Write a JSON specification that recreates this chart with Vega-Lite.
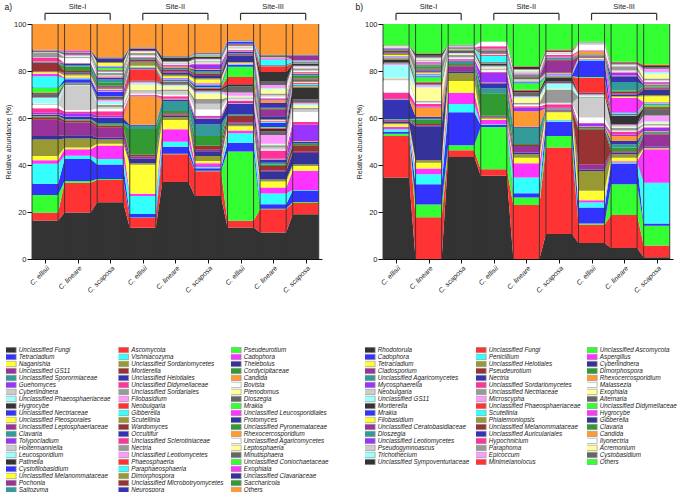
{
"$schema":"https://vega.github.io/schema/vega-lite/v6.json",
"padding":{"left":4,"top":2,"right":2,"bottom":0},
"config":{"font":"Liberation Sans","view":{"stroke":null},"legend":{"symbolSize":25,"symbolLimit":100},"axis":{"labelFont":"Liberation Sans","titleFont":"Liberation Sans","labelColor":"#222","titleColor":"#222","domainColor":"#111","tickColor":"#111"},"title":{"font":"Liberation Sans","fontWeight":"normal","fontSize":8.5,"anchor":"start","color":"#111"}},
"resolve":{"scale":{"color":"independent"},"legend":{"color":"independent"}},
"bounds":"flush",
"spacing":61,
"datasets":{
"samples":[{"k":"v1","L":"1L","R":"1R"},{"k":"v2","L":"2L","R":"2R"},{"k":"v3","L":"3L","R":"3R"},{"k":"v4","L":"4L","R":"4R"},{"k":"v5","L":"5L","R":"5R"},{"k":"v6","L":"6L","R":"6R"},{"k":"v7","L":"7L","R":"7R"},{"k":"v8","L":"8L","R":"8R"},{"k":"v9","L":"9L","R":"9R"}],
"sites":[{"site":"Site-I","from":"1b","to":"3b","mid":"2b"},{"site":"Site-II","from":"4b","to":"6b","mid":"5b"},{"site":"Site-III","from":"7b","to":"9b","mid":"8b"}],
"a":[
{"t":"Unclassified Fungi","o":1,"v1":16.4,"v2":19.7,"v3":24.2,"v4":13.3,"v5":32.8,"v6":26.8,"v7":13.4,"v8":11.3,"v9":19.0},
{"t":"Ascomycota","o":2,"v1":3.3,"v2":12.7,"v3":9.4,"v4":4.2,"v5":11.8,"v6":10.5,"v7":2.9,"v8":9.9,"v9":4.8},
{"t":"Pseudeurotium","o":3,"v1":7.5,"v2":0.7,"v3":0.4,"v4":0.2,"v5":0.2,"v6":0.3,"v7":29.4,"v8":0.2,"v9":0.5},
{"t":"Tetracladium","o":4,"v1":4.8,"v2":9.3,"v3":6.2,"v4":1.5,"v5":3.0,"v6":1.0,"v7":3.8,"v8":1.9,"v9":4.8},
{"t":"Vishniacozyma","o":5,"v1":8.5,"v2":1.4,"v3":2.4,"v4":7.6,"v5":2.1,"v6":0.5,"v7":4.0,"v8":4.6,"v9":0.3},
{"t":"Cadophora","o":6,"v1":1.5,"v2":2.8,"v3":5.7,"v4":1.0,"v5":5.3,"v6":1.6,"v7":1.2,"v8":2.5,"v9":8.2},
{"t":"Naganishia","o":7,"v1":1.8,"v2":0.7,"v3":0.7,"v4":12.3,"v5":3.9,"v6":1.0,"v7":1.8,"v8":2.6,"v9":2.0},
{"t":"Unclassified Sordariomycetes","o":8,"v1":7.1,"v2":3.8,"v3":1.9,"v4":0.6,"v5":1.3,"v6":2.1,"v7":0.6,"v8":0.8,"v9":0.6},
{"t":"Thelebolus","o":9,"v1":1.4,"v2":1.4,"v3":0.7,"v4":2.1,"v5":0.6,"v6":2.0,"v7":0.6,"v8":3.5,"v9":4.9},
{"t":"Unclassified GS11","o":10,"v1":7.0,"v2":5.4,"v3":4.2,"v4":0.8,"v5":0.5,"v6":0.7,"v7":0.5,"v8":0.5,"v9":0.5},
{"t":"Mortierella","o":11,"v1":1.0,"v2":0.9,"v3":1.0,"v4":0.8,"v5":0.5,"v6":1.7,"v7":2.6,"v8":1.8,"v9":2.8},
{"t":"Cordycipitaceae","o":12,"v1":0.3,"v2":0.3,"v3":0.5,"v4":10.9,"v5":1.0,"v6":4.1,"v7":0.4,"v8":0.6,"v9":0.5},
{"t":"Unclassified Sporormiaceae","o":13,"v1":0.3,"v2":0.3,"v3":0.6,"v4":1.4,"v5":4.2,"v6":4.9,"v7":0.3,"v8":0.8,"v9":0.5},
{"t":"Unclassified Helotiales","o":14,"v1":0.6,"v2":0.9,"v3":2.1,"v4":0.4,"v5":0.5,"v6":2.6,"v7":4.6,"v8":1.2,"v9":0.5},
{"t":"Candida","o":15,"v1":0.2,"v2":0.2,"v3":0.2,"v4":12.2,"v5":0.3,"v6":0.3,"v7":0.3,"v8":0.3,"v9":0.3},
{"t":"Guehomyces","o":16,"v1":0.5,"v2":1.3,"v3":0.8,"v4":0.3,"v5":0.3,"v6":0.3,"v7":0.4,"v8":0.3,"v9":6.9},
{"t":"Unclassified Didymellaceae","o":17,"v1":2.0,"v2":0.8,"v3":1.9,"v4":0.3,"v5":1.0,"v6":0.6,"v7":0.6,"v8":3.4,"v9":1.2},
{"t":"Bovista","o":18,"v1":1.4,"v2":0.6,"v3":1.0,"v4":0.4,"v5":0.6,"v6":2.6,"v7":0.5,"v8":0.4,"v9":4.3},
{"t":"Cyberlindnera","o":19,"v1":0.2,"v2":10.3,"v3":0.8,"v4":1.0,"v5":1.6,"v6":2.5,"v7":0.5,"v8":0.8,"v9":1.0},
{"t":"Unclassified Sordariales","o":20,"v1":0.2,"v2":0.1,"v3":0.8,"v4":0.5,"v5":0.6,"v6":2.0,"v7":0.3,"v8":1.0,"v9":0.7},
{"t":"Plenodomus","o":21,"v1":0.2,"v2":0.1,"v3":0.3,"v4":2.4,"v5":1.3,"v6":2.2,"v7":0.4,"v8":0.3,"v9":1.0},
{"t":"Unclassified Phaeosphaeriaceae","o":22,"v1":2.3,"v2":0.1,"v3":1.2,"v4":0.6,"v5":0.5,"v6":0.5,"v7":0.4,"v8":0.3,"v9":0.5},
{"t":"Filobasidium","o":23,"v1":0.2,"v2":0.1,"v3":0.8,"v4":0.6,"v5":0.3,"v6":0.5,"v7":1.3,"v8":3.8,"v9":0.7},
{"t":"Dioszegia","o":24,"v1":1.3,"v2":0.1,"v3":0.8,"v4":0.3,"v5":0.6,"v6":0.5,"v7":2.6,"v8":1.6,"v9":1.5},
{"t":"Hygrocybe","o":25,"v1":0.5,"v2":0.5,"v3":0.3,"v4":0.2,"v5":0.4,"v6":0.6,"v7":1.0,"v8":1.0,"v9":5.0},
{"t":"Neobulgaria","o":26,"v1":0.3,"v2":0.1,"v3":0.2,"v4":4.8,"v5":0.3,"v6":0.4,"v7":3.0,"v8":0.4,"v9":0.4},
{"t":"Mrakia","o":27,"v1":2.0,"v2":0.2,"v3":0.2,"v4":0.3,"v5":0.3,"v6":0.3,"v7":4.4,"v8":0.4,"v9":0.4},
{"t":"Unclassified Nectriaceae","o":28,"v1":0.2,"v2":1.5,"v3":1.8,"v4":0.3,"v5":0.6,"v6":0.8,"v7":0.8,"v8":1.8,"v9":0.4},
{"t":"Gibberella","o":29,"v1":4.8,"v2":0.4,"v3":0.3,"v4":0.3,"v5":0.3,"v6":0.4,"v7":0.3,"v8":0.4,"v9":0.3},
{"t":"Unclassified Leucosporidiales","o":30,"v1":1.0,"v2":0.3,"v3":0.7,"v4":0.2,"v5":0.3,"v6":0.5,"v7":0.3,"v8":0.4,"v9":0.4},
{"t":"Unclassified Pleosporales","o":31,"v1":0.7,"v2":0.8,"v3":0.3,"v4":0.4,"v5":0.8,"v6":1.6,"v7":0.3,"v8":0.4,"v9":0.4},
{"t":"Scutellinia","o":32,"v1":0.1,"v2":0.8,"v3":0.2,"v4":1.5,"v5":0.6,"v6":0.5,"v7":0.3,"v8":0.3,"v9":0.4},
{"t":"Protomyces","o":33,"v1":0.1,"v2":0.3,"v3":0.4,"v4":0.3,"v5":1.0,"v6":1.0,"v7":2.8,"v8":1.2,"v9":0.4},
{"t":"Unclassified Leptosphaeriaceae","o":34,"v1":0.1,"v2":0.3,"v3":0.3,"v4":0.3,"v5":0.5,"v6":0.4,"v7":0.3,"v8":2.8,"v9":0.3},
{"t":"Wardomyces","o":35,"v1":3.6,"v2":0.6,"v3":0.4,"v4":0.5,"v5":0.5,"v6":0.6,"v7":0.3,"v8":0.3,"v9":0.4},
{"t":"Unclassified Pyronemataceae","o":36,"v1":0.15,"v2":1.9,"v3":1.3,"v4":0.3,"v5":0.3,"v6":0.6,"v7":0.2,"v8":0.3,"v9":1.2},
{"t":"Clavaria","o":37,"v1":0.15,"v2":0.5,"v3":1.4,"v4":0.2,"v5":0.3,"v6":0.4,"v7":0.2,"v8":0.3,"v9":0.4},
{"t":"Occultifur","o":38,"v1":0.15,"v2":0.6,"v3":0.8,"v4":0.2,"v5":0.3,"v6":0.6,"v7":0.6,"v8":2.0,"v9":0.4},
{"t":"Rhexocercosporidium","o":39,"v1":0.15,"v2":0.1,"v3":0.2,"v4":0.2,"v5":0.6,"v6":0.3,"v7":0.2,"v8":1.2,"v9":0.3},
{"t":"Tolypocladium","o":40,"v1":0.15,"v2":0.1,"v3":0.2,"v4":0.2,"v5":0.6,"v6":2.0,"v7":0.3,"v8":0.4,"v9":0.3},
{"t":"Unclassified Sclerotiniaceae","o":41,"v1":1.4,"v2":0.2,"v3":0.2,"v4":0.2,"v5":0.2,"v6":0.4,"v7":0.3,"v8":0.4,"v9":0.3},
{"t":"Unclassified Agaricomycetes","o":42,"v1":0.1,"v2":2.0,"v3":0.2,"v4":0.4,"v5":0.2,"v6":0.3,"v7":0.6,"v8":0.8,"v9":0.3},
{"t":"Holtermanniella","o":43,"v1":0.1,"v2":0.2,"v3":0.2,"v4":0.3,"v5":0.2,"v6":0.3,"v7":0.3,"v8":0.6,"v9":0.3},
{"t":"Nectria","o":44,"v1":1.9,"v2":0.3,"v3":1.0,"v4":1.0,"v5":0.2,"v6":0.4,"v7":0.2,"v8":0.6,"v9":0.9},
{"t":"Leptosphaeria","o":45,"v1":0.1,"v2":0.2,"v3":0.2,"v4":0.3,"v5":0.2,"v6":0.3,"v7":0.2,"v8":1.8,"v9":0.3},
{"t":"Leucosporidium","o":46,"v1":0.1,"v2":0.2,"v3":0.2,"v4":0.2,"v5":0.2,"v6":0.3,"v7":0.2,"v8":0.6,"v9":0.3},
{"t":"Unclassified Leotiomycetes","o":47,"v1":0.1,"v2":0.6,"v3":0.2,"v4":0.2,"v5":0.2,"v6":0.3,"v7":0.2,"v8":1.2,"v9":0.3},
{"t":"Minutisphaera","o":48,"v1":0.3,"v2":0.3,"v3":0.3,"v4":0.4,"v5":0.3,"v6":0.4,"v7":0.3,"v8":1.7,"v9":0.5},
{"t":"Patinella","o":49,"v1":0.3,"v2":0.3,"v3":0.2,"v4":0.6,"v5":1.5,"v6":0.5,"v7":0.3,"v8":3.9,"v9":0.5},
{"t":"Phaeosphaeria","o":50,"v1":0.05,"v2":0.1,"v3":0.2,"v4":0.05,"v5":0.05,"v6":0.2,"v7":0.2,"v8":2.4,"v9":0.2},
{"t":"Unclassified Coniochaetaceae","o":51,"v1":0.05,"v2":0.1,"v3":0.8,"v4":0.05,"v5":0.05,"v6":0.2,"v7":0.1,"v8":0.3,"v9":0.3},
{"t":"Cystofilobasidium","o":52,"v1":0.05,"v2":0.1,"v3":0.3,"v4":0.05,"v5":0.05,"v6":0.2,"v7":1.0,"v8":0.4,"v9":0.3},
{"t":"Paraphaeosphaeria","o":53,"v1":0.05,"v2":0.1,"v3":0.3,"v4":0.05,"v5":0.05,"v6":0.2,"v7":0.05,"v8":2.2,"v9":0.2},
{"t":"Exophiala","o":54,"v1":0.05,"v2":0.5,"v3":0.3,"v4":0.05,"v5":0.05,"v6":0.2,"v7":0.05,"v8":0.5,"v9":0.3},
{"t":"Unclassified Melanommataceae","o":55,"v1":0.05,"v2":0.05,"v3":1.2,"v4":0.05,"v5":0.05,"v6":0.1,"v7":0.05,"v8":0.3,"v9":0.1},
{"t":"Dimorphospora","o":56,"v1":0.05,"v2":0.05,"v3":0.3,"v4":0.05,"v5":0.05,"v6":0.1,"v7":0.05,"v8":0.3,"v9":0.1},
{"t":"Unclassified Clavariaceae","o":57,"v1":0.05,"v2":0.05,"v3":1.6,"v4":0.05,"v5":0.05,"v6":0.2,"v7":0.05,"v8":0.3,"v9":0.1},
{"t":"Pochonia","o":58,"v1":0.05,"v2":0.05,"v3":0.1,"v4":0.05,"v5":0.05,"v6":0.05,"v7":0.05,"v8":0.2,"v9":1.9},
{"t":"Unclassified Microbotryomycetes","o":59,"v1":0.05,"v2":0.05,"v3":0.1,"v4":0.05,"v5":0.05,"v6":0.05,"v7":0.05,"v8":0.2,"v9":0.1},
{"t":"Saccharicola","o":60,"v1":0.05,"v2":0.05,"v3":0.1,"v4":0.05,"v5":0.05,"v6":0.05,"v7":0.05,"v8":0.1,"v9":0.1},
{"t":"Saitozyma","o":61,"v1":0.05,"v2":0.05,"v3":0.1,"v4":0.05,"v5":0.05,"v6":0.05,"v7":0.05,"v8":0.1,"v9":0.1},
{"t":"Neurospora","o":62,"v1":0.05,"v2":0.05,"v3":0.1,"v4":0.05,"v5":0.05,"v6":0.05,"v7":0.05,"v8":0.1,"v9":0.1},
{"t":"Others","o":63,"v1":10.8,"v2":11.1,"v3":14.2,"v4":9.85,"v5":13.65,"v6":12.35,"v7":6.9,"v8":13.0,"v9":13.0}
],
"b":[
{"t":"Rhodotorula","o":1,"v1":34.7,"v2":0,"v3":43.4,"v4":35.4,"v5":0,"v6":10.6,"v7":6.8,"v8":4.7,"v9":0.7},
{"t":"Unclassified Fungi","o":2,"v1":17.6,"v2":17.8,"v3":2.9,"v4":2.8,"v5":23.0,"v6":36.8,"v7":7.8,"v8":14.0,"v9":5.0},
{"t":"Unclassified Ascomycota","o":3,"v1":1.0,"v2":5.4,"v3":2.1,"v4":18.0,"v5":3.2,"v6":4.9,"v7":0.5,"v8":13.1,"v9":8.4},
{"t":"Cadophora","o":4,"v1":0.9,"v2":8.6,"v3":14.1,"v4":0.8,"v5":1.8,"v6":6.1,"v7":6.8,"v8":8.8,"v9":1.0},
{"t":"Penicillium","o":5,"v1":1.0,"v2":4.3,"v3":3.5,"v4":0.4,"v5":6.7,"v6":0.6,"v7":2.1,"v8":0.5,"v9":17.4},
{"t":"Aspergillus","o":6,"v1":1.0,"v2":2.4,"v3":4.7,"v4":1.8,"v5":6.0,"v6":0.3,"v7":1.0,"v8":0.5,"v9":14.2},
{"t":"Tetracladium","o":7,"v1":1.1,"v2":2.5,"v3":5.0,"v4":0.5,"v5":2.4,"v6":3.2,"v7":4.0,"v8":1.5,"v9":0.3},
{"t":"Unclassified Helotiales","o":8,"v1":0.5,"v2":1.0,"v3":3.5,"v4":0.5,"v5":1.5,"v6":0.3,"v7":8.5,"v8":1.5,"v9":0.3},
{"t":"Cyberlindnera","o":9,"v1":0.7,"v2":14.5,"v3":0.7,"v4":0.3,"v5":0.7,"v6":0.2,"v7":0.6,"v8":0.6,"v9":0.5},
{"t":"Cladosporium","o":10,"v1":0.3,"v2":0.4,"v3":2.1,"v4":0.3,"v5":2.8,"v6":0.2,"v7":2.2,"v8":0.3,"v9":5.2},
{"t":"Pseudeurotium","o":11,"v1":0.4,"v2":0.5,"v3":0.4,"v4":0.2,"v5":0.4,"v6":0.2,"v7":14.9,"v8":0.4,"v9":0.3},
{"t":"Dimorphospora","o":12,"v1":0.2,"v2":2.0,"v3":0.6,"v4":9.6,"v5":0.4,"v6":0.2,"v7":0.4,"v8":1.5,"v9":0.3},
{"t":"Unclassified Agaricomycetes","o":13,"v1":0.2,"v2":0.3,"v3":0.8,"v4":2.1,"v5":7.0,"v6":0.2,"v7":0.3,"v8":1.4,"v9":0.3},
{"t":"Nectria","o":14,"v1":8.3,"v2":0.8,"v3":0.4,"v4":2.1,"v5":0.4,"v6":0.2,"v7":0.4,"v8":1.4,"v9":0.3},
{"t":"Rhexocercosporidium","o":15,"v1":0.2,"v2":4.0,"v3":0.3,"v4":0.3,"v5":6.6,"v6":0.2,"v7":0.3,"v8":2.1,"v9":0.3},
{"t":"Mycosphaerella","o":16,"v1":0.3,"v2":0.4,"v3":0.4,"v4":4.2,"v5":1.5,"v6":0.2,"v7":1.0,"v8":0.7,"v9":1.2},
{"t":"Unclassified Sordariomycetes","o":17,"v1":2.4,"v2":1.2,"v3":0.3,"v4":0.4,"v5":0.6,"v6":1.5,"v7":0.3,"v8":1.0,"v9":0.4},
{"t":"Malassezia","o":18,"v1":5.3,"v2":0.4,"v3":0.4,"v4":0.6,"v5":0.5,"v6":0.3,"v7":2.3,"v8":0.3,"v9":0.5},
{"t":"Neobulgaria","o":19,"v1":0.4,"v2":0.4,"v3":0.4,"v4":0.4,"v5":0.5,"v6":0.3,"v7":8.4,"v8":0.6,"v9":0.5},
{"t":"Unclassified Nectriaceae","o":20,"v1":0.3,"v2":0.4,"v3":0.8,"v4":0.4,"v5":0.5,"v6":5.6,"v7":0.3,"v8":1.0,"v9":0.5},
{"t":"Exophiala","o":21,"v1":0.3,"v2":5.6,"v3":0.3,"v4":0.4,"v5":2.0,"v6":0.3,"v7":0.3,"v8":0.3,"v9":0.5},
{"t":"Unclassified GS11","o":22,"v1":5.5,"v2":0.4,"v3":0.3,"v4":0.3,"v5":0.4,"v6":2.1,"v7":0.4,"v8":0.3,"v9":0.5},
{"t":"Microscypha","o":23,"v1":0.6,"v2":0.8,"v3":0.3,"v4":0.3,"v5":0.4,"v6":0.3,"v7":0.4,"v8":0.6,"v9":2.5},
{"t":"Alternaria","o":24,"v1":0.4,"v2":0.5,"v3":0.5,"v4":0.4,"v5":1.5,"v6":0.9,"v7":0.3,"v8":0.4,"v9":2.5},
{"t":"Mortierella","o":25,"v1":1.2,"v2":0.4,"v3":0.5,"v4":0.5,"v5":0.8,"v6":1.5,"v7":0.4,"v8":3.3,"v9":0.6},
{"t":"Unclassified Phaeosphaeriaceae","o":26,"v1":0.3,"v2":0.4,"v3":0.1,"v4":0.3,"v5":0.4,"v6":0.3,"v7":6.4,"v8":0.3,"v9":0.5},
{"t":"Unclassified Didymellaceae","o":27,"v1":0.3,"v2":1.9,"v3":0.1,"v4":0.3,"v5":2.8,"v6":0.3,"v7":0.4,"v8":0.3,"v9":0.8},
{"t":"Mrakia","o":28,"v1":0.3,"v2":0.5,"v3":0.1,"v4":0.3,"v5":0.4,"v6":0.3,"v7":7.0,"v8":0.3,"v9":0.4},
{"t":"Scutellinia","o":29,"v1":0.3,"v2":0.6,"v3":0.1,"v4":2.5,"v5":0.4,"v6":0.3,"v7":0.4,"v8":0.5,"v9":0.4},
{"t":"Hygrocybe","o":30,"v1":0.3,"v2":0.5,"v3":0.1,"v4":0.6,"v5":0.4,"v6":0.3,"v7":0.3,"v8":6.4,"v9":0.4},
{"t":"Filobasidium","o":31,"v1":0.5,"v2":0.4,"v3":0.1,"v4":0.3,"v5":0.4,"v6":0.2,"v7":0.3,"v8":0.4,"v9":2.6},
{"t":"Phialemoniopsis","o":32,"v1":0.6,"v2":0.4,"v3":0.1,"v4":0.3,"v5":0.3,"v6":0.2,"v7":0.2,"v8":0.4,"v9":0.5},
{"t":"Gibberella","o":33,"v1":0.3,"v2":0.5,"v3":0.1,"v4":0.3,"v5":0.3,"v6":0.3,"v7":0.3,"v8":0.6,"v9":2.2},
{"t":"Unclassified Ceratobasidiaceae","o":34,"v1":0.3,"v2":0.4,"v3":0.1,"v4":0.3,"v5":0.3,"v6":5.0,"v7":0.2,"v8":0.4,"v9":0.5},
{"t":"Unclassified Melanommataceae","o":35,"v1":0.5,"v2":0.4,"v3":0.1,"v4":0.3,"v5":0.3,"v6":0.3,"v7":0.2,"v8":0.8,"v9":0.5},
{"t":"Clavaria","o":36,"v1":0.3,"v2":1.0,"v3":0.1,"v4":0.3,"v5":0.3,"v6":0.3,"v7":0.2,"v8":0.5,"v9":0.4},
{"t":"Dioszegia","o":37,"v1":0.3,"v2":0.4,"v3":0.1,"v4":0.2,"v5":0.3,"v6":0.3,"v7":0.2,"v8":3.6,"v9":0.4},
{"t":"Unclassified Auriculariales","o":38,"v1":0.3,"v2":0.4,"v3":0.1,"v4":0.2,"v5":0.2,"v6":0.3,"v7":0.2,"v8":2.5,"v9":0.4},
{"t":"Candida","o":39,"v1":0.2,"v2":0.4,"v3":0.1,"v4":0.2,"v5":0.2,"v6":0.3,"v7":1.4,"v8":0.3,"v9":0.4},
{"t":"Unclassified Leotiomycetes","o":40,"v1":0.2,"v2":0.4,"v3":0.1,"v4":0.2,"v5":0.2,"v6":0.3,"v7":0.2,"v8":1.1,"v9":0.4},
{"t":"Hypochnicium","o":41,"v1":0.2,"v2":0.3,"v3":0.1,"v4":1.0,"v5":0.2,"v6":0.6,"v7":0.2,"v8":0.3,"v9":0.4},
{"t":"Ilyonectria","o":42,"v1":0.2,"v2":0.3,"v3":0.1,"v4":1.8,"v5":0.3,"v6":0.4,"v7":2.4,"v8":0.3,"v9":0.4},
{"t":"Pseudogymnoascus","o":43,"v1":0.1,"v2":0.3,"v3":0.1,"v4":0.03,"v5":0.2,"v6":0.2,"v7":0.6,"v8":0.6,"v9":0.4},
{"t":"Paraphoma","o":44,"v1":0.1,"v2":0.3,"v3":0.1,"v4":0.03,"v5":0.3,"v6":0.2,"v7":0.3,"v8":1.6,"v9":0.6},
{"t":"Acremonium","o":45,"v1":0.1,"v2":0.3,"v3":0.1,"v4":0.03,"v5":0.4,"v6":0.2,"v7":0.05,"v8":0.3,"v9":2.0},
{"t":"Trichothecium","o":46,"v1":0.1,"v2":0.3,"v3":0.1,"v4":0.03,"v5":0.2,"v6":0.2,"v7":0.05,"v8":0.3,"v9":0.8},
{"t":"Epicoccum","o":47,"v1":0.1,"v2":0.3,"v3":0.1,"v4":0.03,"v5":0.2,"v6":0.1,"v7":0.05,"v8":0.3,"v9":1.4},
{"t":"Cystobasidium","o":48,"v1":0.1,"v2":0.8,"v3":0.1,"v4":0.03,"v5":0.3,"v6":0.1,"v7":0.05,"v8":0.4,"v9":0.5},
{"t":"Unclassified Sympoventuriaceae","o":49,"v1":0.1,"v2":0.8,"v3":0.1,"v4":0.03,"v5":0.8,"v6":0.4,"v7":0.05,"v8":0.3,"v9":0.6},
{"t":"Minimelanolocus","o":50,"v1":0.1,"v2":0.3,"v3":0.1,"v4":0.03,"v5":0.3,"v6":0.6,"v7":0.05,"v8":0.3,"v9":0.6},
{"t":"Others","o":51,"v1":9.0,"v2":12.4,"v3":8.8,"v4":7.4,"v5":18.0,"v6":10.8,"v7":7.6,"v8":16.1,"v9":17.3}
]
},
"hconcat":[
{
"width":290,"height":235,
"title":{"text":"a)","offset":-8},
"layer":[
{"data":{"name":"a"},
"transform":[{"fold":["v1","v2","v3","v4","v5","v6","v7","v8","v9"],"as":["k","val"]},{"lookup":"k","from":{"data":{"name":"samples"},"key":"k","fields":["L","R"]}},{"fold":["L","R"],"as":["edge","xc"]}],
"mark":{"type":"area"},
"encoding":{
"x":{"field":"xc","type":"ordinal","scale":{"type":"point","domain":["1L","1a","1b","1c","1R","2L","2a","2b","2c","2R","3L","3a","3b","3c","3R","4L","4a","4b","4c","4R","5L","5a","5b","5c","5R","6L","6a","6b","6c","6R","7L","7a","7b","7c","7R","8L","8a","8b","8c","8R","9L","9a","9b","9c","9R"],"padding":0.25,"align":0},
"axis":{"values":["1b","2b","3b","4b","5b","6b","7b","8b","9b"],"labelExpr":"['C. ellisii','C. lineare','C. scaposa'][(parseInt(datum.value)-1)%3]","labelAngle":-45,"labelAlign":"right","labelBaseline":"top","labelFontStyle":"italic","labelFontSize":7,"tickSize":4,"labelPadding":1,"title":null,"grid":false,"domainWidth":1}},
"y":{"field":"val","type":"quantitative","stack":"normalize","scale":{"domain":[0,1]},"axis":{"values":[0,0.2,0.4,0.6,0.8,1],"labelExpr":"round(datum.value*100)","title":"Relative abundance (%)","titleFontSize":7,"titleFontWeight":"normal","titlePadding":2,"labelFontSize":7.5,"tickSize":5,"labelPadding":1,"grid":false,"domainWidth":1}},
"color":{"field":"t","type":"nominal","scale":{"domain":["Unclassified Fungi","Tetracladium","Naganishia","Unclassified GS11","Unclassified Sporormiaceae","Guehomyces","Cyberlindnera","Unclassified Phaeosphaeriaceae","Hygrocybe","Unclassified Nectriaceae","Unclassified Pleosporales","Unclassified Leptosphaeriaceae","Clavaria","Tolypocladium","Holtermanniella","Leucosporidium","Patinella","Cystofilobasidium","Unclassified Melanommataceae","Pochonia","Saitozyma","Ascomycota","Vishniacozyma","Unclassified Sordariomycetes","Mortierella","Unclassified Helotiales","Unclassified Didymellaceae","Unclassified Sordariales","Filobasidium","Neobulgaria","Gibberella","Scutellinia","Wardomyces","Occultifur","Unclassified Sclerotiniaceae","Nectria","Unclassified Leotiomycetes","Phaeosphaeria","Paraphaeosphaeria","Dimorphospora","Unclassified Microbotryomycetes","Neurospora","Pseudeurotium","Cadophora","Thelebolus","Cordycipitaceae","Candida","Bovista","Plenodomus","Dioszegia","Mrakia","Unclassified Leucosporidiales","Protomyces","Unclassified Pyronemataceae","Rhexocercosporidium","Unclassified Agaricomycetes","Leptosphaeria","Minutisphaera","Unclassified Coniochaetaceae","Exophiala","Unclassified Clavariaceae","Saccharicola","Others"],
"range":["#333333","#3333ff","#ffff33","#993399","#339999","#9933ff","#cccccc","#99ffff","#333333","#3333ff","#ffff33","#993399","#339999","#9933ff","#cccccc","#99ffff","#333333","#3333ff","#ffff33","#993399","#339999",
"#ff3333","#33ffff","#999933","#993333","#3333b3","#ff3399","#999999","#ff99ff","#ff3333","#33ffff","#999933","#993333","#3333b3","#ff3399","#999999","#ff99ff","#ff3333","#33ffff","#999933","#993333","#3333b3",
"#33ff33","#ff33ff","#333399","#339933","#ff9933","#ffffff","#ffff99","#666666","#33ff33","#ff33ff","#333399","#339933","#ff9933","#ffffff","#ffff99","#666666","#33ff33","#ff33ff","#333399","#339933","#ff9933"]},
"legend":{"orient":"none","legendX":-26,"legendY":322.5,"columns":3,"direction":"vertical","title":null,"symbolType":"M-2.8,-1.1H2.8V1.1H-2.8Z","symbolSize":25,"symbolLimit":100,"symbolStrokeColor":"#999","symbolStrokeWidth":0.7,"symbolOpacity":1,"labelFontSize":6.3,"labelFontStyle":"italic","labelColor":"#222","labelOffset":6.5,"clipHeight":6.75,"rowPadding":0,"columnPadding":7.5,"labelLimit":300,"padding":0}},
"order":{"field":"o","type":"quantitative"}}},
{"data":{"name":"samples"},"transform":[{"fold":["L","R"],"as":["edge","xc"]}],"mark":{"type":"rule","color":"#333","strokeWidth":0.9},"encoding":{"x":{"field":"xc","type":"ordinal"},"y":{"datum":0},"y2":{"datum":1}}},
{"data":{"name":"sites"},"mark":{"type":"rule","color":"#333","strokeWidth":1.2},"encoding":{"x":{"field":"from","type":"ordinal"},"x2":{"field":"to"},"y":{"datum":1.045}}},
{"data":{"name":"sites"},"transform":[{"fold":["from","to"],"as":["e","xe"]}],"mark":{"type":"rule","color":"#333","strokeWidth":1.2},"encoding":{"x":{"field":"xe","type":"ordinal"},"y":{"datum":1.016},"y2":{"datum":1.045}}},
{"data":{"name":"sites"},"mark":{"type":"text","fontSize":7.5,"baseline":"bottom","color":"#222"},"encoding":{"x":{"field":"mid","type":"ordinal"},"y":{"datum":1.055},"text":{"field":"site"}}}
]
},
{
"width":290,"height":235,
"title":{"text":"b)","offset":-8},
"layer":[
{"data":{"name":"b"},
"transform":[{"fold":["v1","v2","v3","v4","v5","v6","v7","v8","v9"],"as":["k","val"]},{"lookup":"k","from":{"data":{"name":"samples"},"key":"k","fields":["L","R"]}},{"fold":["L","R"],"as":["edge","xc"]}],
"mark":{"type":"area"},
"encoding":{
"x":{"field":"xc","type":"ordinal","scale":{"type":"point","domain":["1L","1a","1b","1c","1R","2L","2a","2b","2c","2R","3L","3a","3b","3c","3R","4L","4a","4b","4c","4R","5L","5a","5b","5c","5R","6L","6a","6b","6c","6R","7L","7a","7b","7c","7R","8L","8a","8b","8c","8R","9L","9a","9b","9c","9R"],"padding":0.25,"align":0},
"axis":{"values":["1b","2b","3b","4b","5b","6b","7b","8b","9b"],"labelExpr":"['C. ellisii','C. lineare','C. scaposa'][(parseInt(datum.value)-1)%3]","labelAngle":-45,"labelAlign":"right","labelBaseline":"top","labelFontStyle":"italic","labelFontSize":7,"tickSize":4,"labelPadding":1,"title":null,"grid":false,"domainWidth":1}},
"y":{"field":"val","type":"quantitative","stack":"normalize","scale":{"domain":[0,1]},"axis":{"values":[0,0.2,0.4,0.6,0.8,1],"labelExpr":"round(datum.value*100)","title":"Relative abundance (%)","titleFontSize":7,"titleFontWeight":"normal","titlePadding":2,"labelFontSize":7.5,"tickSize":5,"labelPadding":1,"grid":false,"domainWidth":1}},
"color":{"field":"t","type":"nominal","scale":{"domain":["Rhodotorula","Cadophora","Tetracladium","Cladosporium","Unclassified Agaricomycetes","Mycosphaerella","Neobulgaria","Unclassified GS11","Mortierella","Mrakia","Filobasidium","Unclassified Ceratobasidiaceae","Dioszegia","Unclassified Leotiomycetes","Pseudogymnoascus","Trichothecium","Unclassified Sympoventuriaceae","Unclassified Fungi","Penicillium","Unclassified Helotiales","Pseudeurotium","Nectria","Unclassified Sordariomycetes","Unclassified Nectriaceae","Microscypha","Unclassified Phaeosphaeriaceae","Scutellinia","Phialemoniopsis","Unclassified Melanommataceae","Unclassified Auriculariales","Hypochnicium","Paraphoma","Epicoccum","Minimelanolocus","Unclassified Ascomycota","Aspergillus","Cyberlindnera","Dimorphospora","Rhexocercosporidium","Malassezia","Exophiala","Alternaria","Unclassified Didymellaceae","Hygrocybe","Gibberella","Clavaria","Candida","Ilyonectria","Acremonium","Cystobasidium","Others"],
"range":["#333333","#3333ff","#ffff33","#993399","#339999","#9933ff","#cccccc","#99ffff","#333333","#3333ff","#ffff33","#993399","#339999","#9933ff","#cccccc","#99ffff","#333333",
"#ff3333","#33ffff","#999933","#993333","#3333b3","#ff3399","#999999","#ff99ff","#ff3333","#33ffff","#999933","#993333","#3333b3","#ff3399","#999999","#ff99ff","#ff3333",
"#33ff33","#ff33ff","#333399","#339933","#ff9933","#ffffff","#ffff99","#666666","#33ff33","#ff33ff","#333399","#339933","#ff9933","#ffffff","#ffff99","#666666","#33ff33"]},
"legend":{"orient":"none","legendX":-18,"legendY":322.5,"columns":3,"direction":"vertical","title":null,"symbolType":"M-2.8,-1.1H2.8V1.1H-2.8Z","symbolSize":25,"symbolLimit":100,"symbolStrokeColor":"#999","symbolStrokeWidth":0.7,"symbolOpacity":1,"labelFontSize":6.3,"labelFontStyle":"italic","labelColor":"#222","labelOffset":6.5,"clipHeight":6.75,"rowPadding":0,"columnPadding":6,"labelLimit":300,"padding":0}},
"order":{"field":"o","type":"quantitative"}}},
{"data":{"name":"samples"},"transform":[{"fold":["L","R"],"as":["edge","xc"]}],"mark":{"type":"rule","color":"#333","strokeWidth":0.9},"encoding":{"x":{"field":"xc","type":"ordinal"},"y":{"datum":0},"y2":{"datum":1}}},
{"data":{"name":"sites"},"mark":{"type":"rule","color":"#333","strokeWidth":1.2},"encoding":{"x":{"field":"from","type":"ordinal"},"x2":{"field":"to"},"y":{"datum":1.045}}},
{"data":{"name":"sites"},"transform":[{"fold":["from","to"],"as":["e","xe"]}],"mark":{"type":"rule","color":"#333","strokeWidth":1.2},"encoding":{"x":{"field":"xe","type":"ordinal"},"y":{"datum":1.016},"y2":{"datum":1.045}}},
{"data":{"name":"sites"},"mark":{"type":"text","fontSize":7.5,"baseline":"bottom","color":"#222"},"encoding":{"x":{"field":"mid","type":"ordinal"},"y":{"datum":1.055},"text":{"field":"site"}}}
]
}
]
}
